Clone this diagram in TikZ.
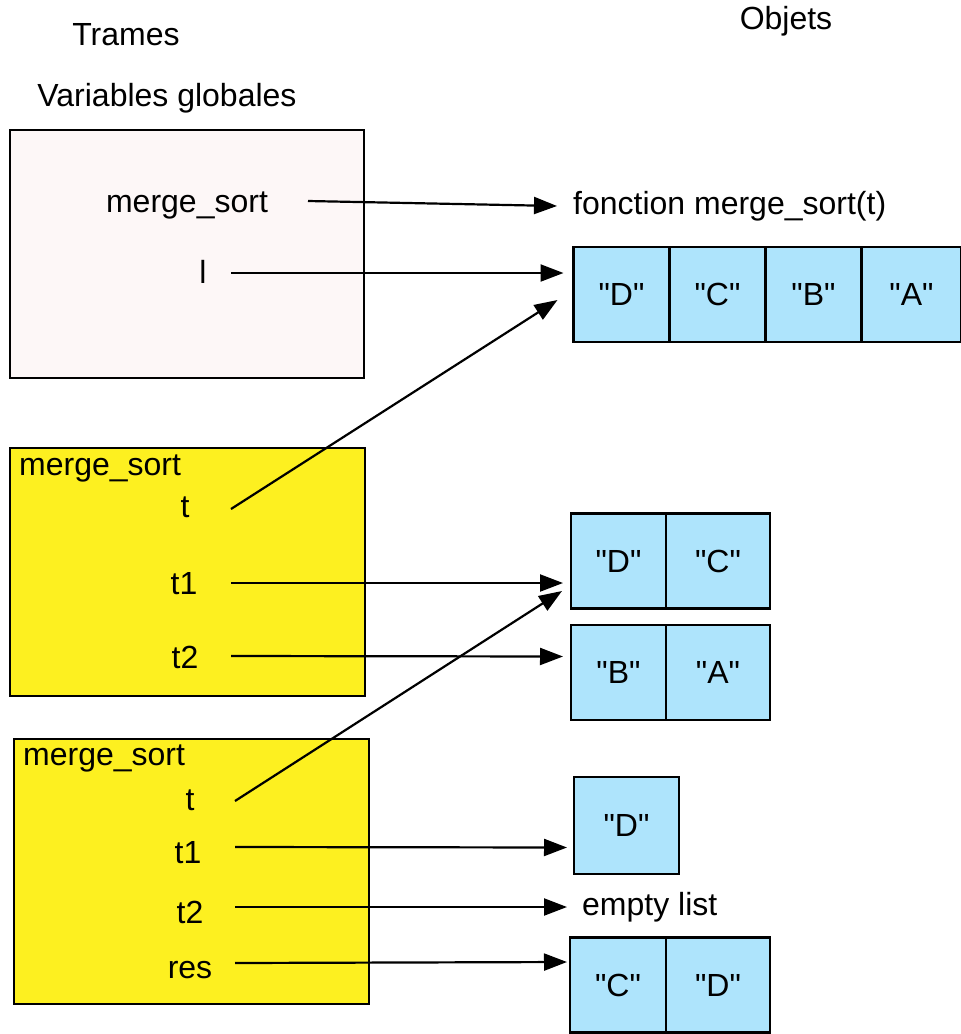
\documentclass[tikz,border=0pt]{standalone}
\usepackage{fontspec}
\setmainfont{Liberation Sans}[Ligatures=TeXOff]
\usetikzlibrary{positioning,arrows.meta}

\definecolor{listblue}{RGB}{174,228,252}
\definecolor{frameyellow}{RGB}{253,240,32}
\definecolor{globpink}{RGB}{253,247,247}

\tikzset{
  txt/.style={font=\fontsize{32}{38}\selectfont,inner sep=0pt},
  cell/.style={txt,draw,line width=2.4pt,fill=listblue,minimum height=95,outer sep=0pt},
  frame/.style={draw,line width=2.4pt,anchor=north west,outer sep=0pt},
  ptr/.style={line width=2.2pt,-{Triangle[length=23pt,width=17pt]}}
}

\begin{document}
\begin{tikzpicture}[x=1pt,y=-1pt]
    \useasboundingbox (0,0) rectangle (961,1034);

    \node[txt] (trames) at (126,35) {Trames};
    \node[txt] (objets) at (786,21) {Objets};
    \node[txt] (varglob) at (167,98) {Variables globales};

    \node[frame,fill=globpink,minimum width=354,minimum height=248] (glob) at (10,130) {};
    \node[txt] (gms) at (187,205) {merge\_sort};
    \node[txt] (gl) at (203,272) {l};
    \coordinate (gms-p) at (308,201);
    \coordinate (gl-p) at (231,273);

    \node[frame,fill=frameyellow,minimum width=355,minimum height=248] (fra) at (10,448) {};
    \node[txt,anchor=west] (fra-name) at (19,468) {merge\_sort};
    \node[txt] (fa-t) at (185,507) {t};
    \node[txt] (fa-t1) at (184,584) {t1};
    \node[txt] (fa-t2) at (185,657) {t2};
    \coordinate (fa-t-p) at (231,509);
    \coordinate (fa-t1-p) at (231,583);
    \coordinate (fa-t2-p) at (231,656);

    \node[frame,fill=frameyellow,minimum width=355,minimum height=265] (frb) at (14,739) {};
    \node[txt,anchor=west] (frb-name) at (23,758) {merge\_sort};
    \node[txt] (fb-t) at (190,800) {t};
    \node[txt] (fb-t1) at (188,853) {t1};
    \node[txt] (fb-t2) at (190,912) {t2};
    \node[txt] (fb-res) at (190,970) {res};
    \coordinate (fb-t-p) at (235,801);
    \coordinate (fb-t1-p) at (235,847);
    \coordinate (fb-t2-p) at (235,907);
    \coordinate (fb-res-p) at (235,963);

    \node[txt,anchor=west] (fct) at (573,206) {fonction merge\_sort(t)};

    \node[cell,minimum width=96] (la) at (621.5,294.5) {"D"};
    \node[cell,minimum width=96,right=0pt of la] (lb) {"C"};
    \node[cell,minimum width=96,right=0pt of lb] (lc) {"B"};
    \node[cell,minimum width=100,right=0pt of lc] (ld) {"A"};

    \node[cell,minimum width=95] (ta) at (618.5,561) {"D"};
    \node[cell,minimum width=104,right=0pt of ta] (tb) {"C"};

    \node[cell,minimum width=95] (ua) at (618.5,672.5) {"B"};
    \node[cell,minimum width=104,right=0pt of ua] (ub) {"A"};

    \node[cell,minimum width=105,minimum height=97] (va) at (626.5,825.5) {"D"};
    \node[txt,anchor=west] (empty) at (582,907) {empty list};

    \node[cell,minimum width=96] (wa) at (618,985) {"C"};
    \node[cell,minimum width=104,right=0pt of wa] (wb) {"D"};

    \draw[ptr] (gms-p) -- ([xshift=-16pt]fct.west);
    \draw[ptr] (gl-p) -- ([shift={(-10,-21.5)}]la.west);
    \draw[ptr] (fa-t-p) -- ([shift={(-16,5.5)}]la.west);
    \draw[ptr] (fa-t1-p) -- ([shift={(-8,22)}]ta.west);
    \draw[ptr] (fa-t2-p) -- ([shift={(-8,-16)}]ua.west);
    \draw[ptr] (fb-t-p) -- ([shift={(-9,30)}]ta.west);
    \draw[ptr] (fb-t1-p) -- ([shift={(-7,22)}]va.west);
    \draw[ptr] (fb-t2-p) -- ([xshift=-15pt]empty.west);
    \draw[ptr] (fb-res-p) -- ([shift={(-3,-23)}]wa.west);
\end{tikzpicture}
\end{document}
